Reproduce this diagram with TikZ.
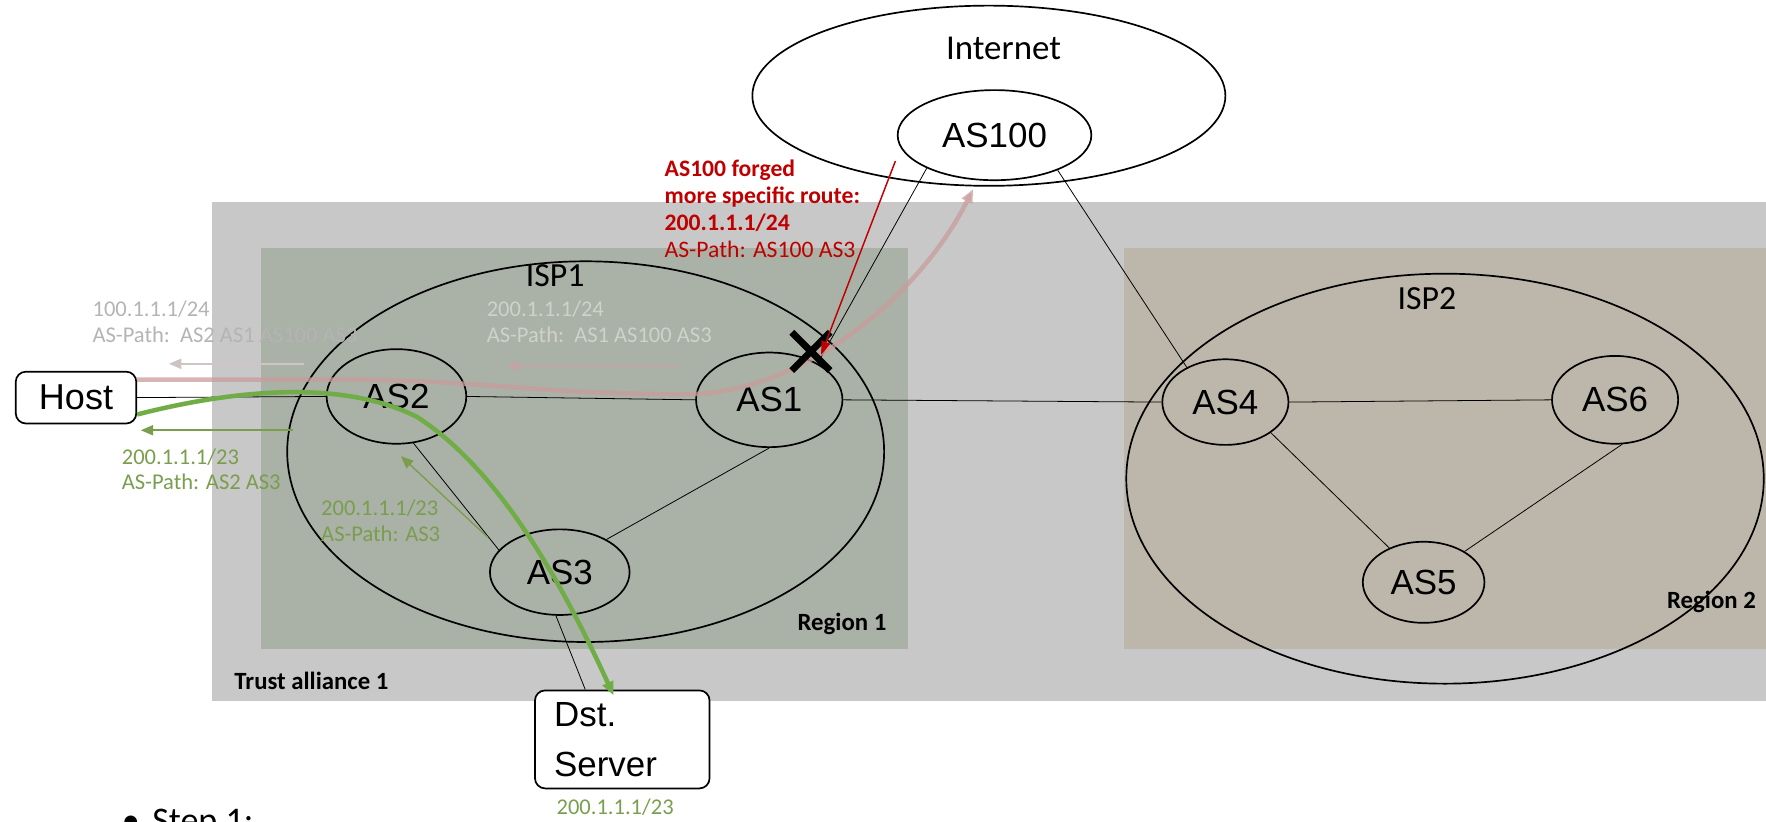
\documentclass[tikz,border=0pt]{standalone}
\usepackage{fontspec}
\setmainfont{Carlito}
\newfontfamily\arialf{Liberation Sans}
\usetikzlibrary{shapes.geometric,arrows.meta,calc}
\definecolor{trustgray}{HTML}{C8C8C8}
\definecolor{regone}{HTML}{AAB1A6}
\definecolor{regtwo}{HTML}{BCB7AA}
\definecolor{thickgreen}{HTML}{70AD47}
\definecolor{txtgreen}{HTML}{7A9E4E}
\definecolor{darkred}{HTML}{C00000}
\definecolor{pinkline}{HTML}{C99C9C}
\definecolor{graytxt}{HTML}{B4B4B4}
\definecolor{graytxtb}{HTML}{CFD2CB}
\definecolor{grayarrow}{HTML}{CFC4C4}
\definecolor{grayarrowb}{HTML}{C2A4A4}
\begin{document}
\begin{tikzpicture}[x=1pt,y=-1pt,
  asnode/.style={ellipse, draw, line width=1.5pt, inner sep=0pt, font=\arialf\fontsize{31}{31}\selectfont},
  bignode/.style={ellipse, draw, line width=1.5pt, inner sep=0pt},
  boxnode/.style={rectangle, rounded corners=9pt, draw, line width=1.5pt, inner sep=0pt, fill=white, font=\arialf\fontsize{31}{44}\selectfont},
  conn/.style={line width=0.7pt},
  lbl/.style={anchor=base west, inner sep=0pt, font=\fontsize{20}{20}\selectfont},
  redlbl/.style={anchor=base west, inner sep=0pt, text=darkred, font=\fontsize{21}{21}\selectfont},
  titlelbl/.style={inner sep=0pt, font=\fontsize{31}{31}\selectfont},
  regionlbl/.style={anchor=base west, inner sep=0pt, font=\bfseries\fontsize{22}{22}\selectfont},
  thinarrow/.style={line width=1.6pt, -{Triangle[length=11pt,width=9pt]}}
]
\useasboundingbox (0,0) rectangle (1568,729);
% backgrounds
\fill[trustgray] (188,179) rectangle (1568,622);
\fill[regone] (232,220) rectangle (806,576);
\fill[regtwo] (998,220) rectangle (1568,576);
% big ellipses
\node[bignode, minimum width=420pt, minimum height=160pt] (Internet) at (878,85) {};
\node[titlelbl] (InternetT) at (891,43) {Internet};
\node[bignode, minimum width=530pt, minimum height=338pt] (ISP1) at (520,401) {};
\node[titlelbl, font=\fontsize{30}{30}\selectfont] (ISP1T) at (493,245) {ISP1};
\node[bignode, minimum width=566pt, minimum height=364pt] (ISP2) at (1283,425) {};
\node[titlelbl, font=\fontsize{30}{30}\selectfont] (ISP2T) at (1267,265) {ISP2};
% AS nodes
\node[asnode, minimum width=172pt, minimum height=80pt] (AS100) at (883,120) {AS100};
\node[asnode, minimum width=124pt, minimum height=84pt] (AS2) at (352,352) {AS2};
\node[asnode, minimum width=130pt, minimum height=84pt] (AS1) at (683,355) {AS1};
\node[asnode, minimum width=124pt, minimum height=76pt] (AS3) at (497,508) {AS3};
\node[asnode, minimum width=112pt, minimum height=76pt] (AS4) at (1088,357) {AS4};
\node[asnode, minimum width=112pt, minimum height=78pt] (AS6) at (1434,355) {AS6};
\node[asnode, minimum width=108pt, minimum height=72pt] (AS5) at (1264,517) {AS5};
% boxes
\node[boxnode, minimum width=107pt, minimum height=46pt, font=\arialf\fontsize{32}{32}\selectfont] (Host) at (67.5,353) {Host};
\node[boxnode, minimum width=155pt, minimum height=87pt, align=left, text width=121pt] (Dst) at (552.5,656.5) {Dst.\\Server};
\coordinate (DstIn) at ($(Dst.north west)!0.29!(Dst.north east)$);
\coordinate (DstArr) at ($(Dst.north west)!0.45!(Dst.north east)+(0,5)$);
% connectors
\draw[conn] (Host.east) -- (AS2.west);
\draw[conn] (AS2.east) -- (AS1.west);
\draw[conn] (AS1.east) -- (AS4.west);
\draw[conn] (AS4.east) -- (AS6.west);
\draw[conn] (AS4.-34) -- (AS5.135);
\draw[conn] (AS6.-81) -- (AS5.37);
\draw[conn] (AS2.290) -- (AS3.160);
\draw[conn] (AS3.35) -- (AS1.south);
\draw[conn] (AS3.-95) -- (DstIn);
\draw[conn] (AS1.37) -- (AS100.206);
\draw[conn] (AS100.-29) -- (AS4.138);
% gray route arrows and labels
\draw[thinarrow, grayarrow] (270,323) -- (150,323);
\draw[thinarrow, grayarrowb] (603,325) -- (450,325);
\node[lbl, text=graytxt] (g1a) at (82,281) {100.1.1.1/24};
\node[lbl, text=graytxt] (g1b) at (82,304) {AS-Path:\ \ AS2 AS1 AS100 AS3};
\node[lbl, text=graytxtb] (g2a) at (432,281) {200.1.1.1/24};
\node[lbl, text=graytxtb] (g2b) at (432,304) {AS-Path:\ \ AS1 AS100 AS3};
% pink hijacked path
\draw[pinkline, opacity=0.75, line width=4pt, -{Triangle[length=12pt,width=10pt]}]
  ($(Host.east)+(0,-16)$) -- (300,337) .. controls (430,337) and (470,350) .. (610,350)
  .. controls (710,350) and (815,265) .. (864,168);
% green thin arrows and labels
\draw[thinarrow, txtgreen] (260,382) -- (125,382);
\draw[thinarrow, txtgreen, line width=1.2pt] (433,477) -- (356,405);
\node[lbl, text=txtgreen] (gr1a) at (108,412) {200.1.1.1/23};
\node[lbl, text=txtgreen] (gr1b) at (108,435) {AS-Path: AS2 AS3};
\node[lbl, text=txtgreen] (gr2a) at (285,458) {200.1.1.1/23};
\node[lbl, text=txtgreen] (gr2b) at (285,481) {AS-Path: AS3};
\node[lbl, text=txtgreen] (gr3) at (494,723) {200.1.1.1/23};
% green thick data path
\draw[thickgreen, line width=4pt, -{Triangle[length=12pt,width=10pt]}]
  ($(Host.east)+(0,15)$) .. controls (200,348) and (300,335) .. (370,370)
  .. controls (442,416) and (498,515) .. (DstArr);
% X mark
\coordinate (X) at (720,312);
\draw[line width=6pt] ($(X)+(-17,-17)$) -- ($(X)+(17,17)$) ($(X)+(-17,17)$) -- ($(X)+(17,-17)$);
% red forged route
\coordinate (rs) at (795,143);
\coordinate (re) at (729,315);
\draw[darkred, line width=1.3pt, -{Triangle[length=12pt,width=8pt]}] (rs) -- (re);
\node[redlbl, font=\bfseries\fontsize{21}{21}\selectfont] (r1) at (590,157) {AS100 forged};
\node[redlbl, font=\bfseries\fontsize{21}{21}\selectfont] (r2) at (590,181) {more specific route:};
\node[redlbl, font=\bfseries\fontsize{21}{21}\selectfont] (r3) at (590,205) {200.1.1.1/24};
\node[redlbl] (r4) at (590,229) {AS-Path: AS100 AS3};
% region labels
\node[regionlbl] (R1) at (708,560) {Region 1};
\node[regionlbl] (R2) at (1480,540) {Region 2};
\node[regionlbl] (TA) at (208,612) {Trust alliance 1};
% step
\node[anchor=base west, inner sep=0pt, font=\fontsize{32}{32}\selectfont] (bul) at (108,739) {\textbullet};
\node[anchor=base west, inner sep=0pt, font=\fontsize{32}{32}\selectfont] (step) at (135,739) {Step 1:};
\end{tikzpicture}
\end{document}
